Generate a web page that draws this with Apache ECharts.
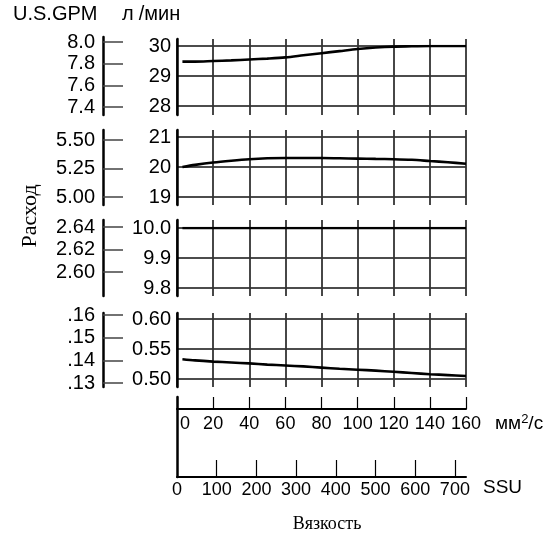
<!DOCTYPE html>
<html>
<head>
<meta charset="utf-8">
<script src="https://cdn.jsdelivr.net/npm/echarts@6/dist/echarts.min.js"></script>
<style>html,body{margin:0;padding:0;background:#fff}#c{width:556px;height:533px}</style>
</head>
<body>
<div id="c"></div>
<script>
// ---- data ----
const viscosityMm = [3, 10, 20, 30, 40, 50, 60, 70, 80, 90, 100, 110, 120, 130, 140, 150, 160];
const flow30 = [29.48, 29.48, 29.50, 29.52, 29.55, 29.58, 29.62, 29.69, 29.76, 29.83, 29.90, 29.95, 29.98, 29.99, 30.0, 30.0, 30.0];
const flow20 = [20.0, 20.07, 20.15, 20.21, 20.26, 20.29, 20.30, 20.30, 20.30, 20.29, 20.28, 20.27, 20.26, 20.24, 20.20, 20.16, 20.11];
const flow10 = [10.0, 10.0, 10.0, 10.0, 10.0, 10.0, 10.0, 10.0, 10.0, 10.0, 10.0, 10.0, 10.0, 10.0, 10.0, 10.0, 10.0];
const flow05 = [0.533, 0.531, 0.529, 0.5275, 0.526, 0.524, 0.5225, 0.521, 0.519, 0.517, 0.5155, 0.514, 0.512, 0.510, 0.508, 0.5065, 0.505];
const lpmRanges = [[28, 30, 1], [19, 21, 1], [9.8, 10.0, 0.1], [0.50, 0.60, 0.05]];
const lpmDecimals = [0, 0, 1, 2];
const gpmRanges = [[7.4, 8.0, 0.2], [5.00, 5.50, 0.25], [2.60, 2.64, 0.02], [0.13, 0.16, 0.01]];
const gpmDecimals = [1, 2, 2, 2];
const mmTicks = [0, 160, 20];
const ssuTicks = [0, 100, 200, 300, 400, 500, 600, 700];
const ssuAtMax = 728;
const flows = [flow30, flow20, flow10, flow05];

// ---- layout ----
const SANS = 'Liberation Sans, Arial, Helvetica, sans-serif';
const SERIF = 'Liberation Serif, Times New Roman, serif';
const L = 177, W = 289;
const panels = [
  {vT: 39, vB: 115, hT: 46, hB: 106, gT: 42, gB: 107, lT: 37, lB: 115},
  {vT: 130, vB: 205, hT: 137, hB: 197, gT: 140, gB: 197, lT: 130, lB: 205},
  {vT: 220, vB: 296, hT: 228, hB: 288, gT: 227, gB: 272, lT: 220, lB: 296},
  {vT: 313, vB: 387, hT: 319, hB: 379, gT: 315, gB: 383, lT: 313, lB: 387}
];

const option = {animation: false, grid: [], xAxis: [], yAxis: [], series: [], graphic: []};
function addGrid(g, xa, ya) {
  option.grid.push(Object.assign({containLabel: false}, g));
  const i = option.grid.length - 1;
  option.xAxis.push(Object.assign({gridIndex: i, type: 'value'}, xa));
  option.yAxis.push(Object.assign({gridIndex: i, type: 'value'}, ya));
  return i;
}

panels.forEach((p, k) => {
  // vertical grid lines
  addGrid({left: L, width: W, top: p.vT, height: p.vB - p.vT},
    {min: mmTicks[0], max: mmTicks[1], interval: mmTicks[2], axisLine: {show: false}, axisTick: {show: false}, axisLabel: {show: false},
     splitLine: {show: true, lineStyle: {color: '#333', width: 1.8}}},
    {min: 0, max: 1, axisLine: {show: true, lineStyle: {color: '#000', width: 2.5}}, axisTick: {show: false}, axisLabel: {show: false}, splitLine: {show: false}, z: 5});
  // horizontal grid + series
  const r = lpmRanges[k];
  const gi = addGrid({left: L, width: W, top: p.hT, height: p.hB - p.hT},
    {min: mmTicks[0], max: mmTicks[1], show: false},
    {min: r[0], max: r[1], interval: r[2], axisLine: {show: false}, axisTick: {show: false},
     axisLabel: {color: '#000', fontFamily: SANS, fontSize: 20, margin: 6, formatter: v => v.toFixed(lpmDecimals[k])},
     splitLine: {show: true, lineStyle: {color: '#111', width: 1.5}}});
  option.series.push({type: 'line', xAxisIndex: gi, yAxisIndex: gi, smooth: 0.3, symbol: 'none',
    lineStyle: {color: '#000', width: 2.6}, z: 10,
    data: viscosityMm.map((x, j) => [x, flows[k][j]])});
  // GPM ticks + labels
  const g = gpmRanges[k];
  addGrid({left: 103, width: 20, top: p.gT, height: p.gB - p.gT},
    {min: 0, max: 1, show: false},
    {min: g[0], max: g[1], interval: g[2], axisLine: {show: false},
     axisTick: {show: true, inside: true, length: 20, lineStyle: {color: '#444', width: 1.5}},
     axisLabel: {color: '#000', fontFamily: SANS, fontSize: 20, margin: 8,
       formatter: v => { let s = v.toFixed(gpmDecimals[k]); return k === 3 ? s.replace(/^0/, '') : s; }},
     splitLine: {show: false}});
  // GPM axis line
  addGrid({left: 103, width: 20, top: p.lT, height: p.lB - p.lT},
    {min: 0, max: 1, show: false},
    {min: 0, max: 1, axisLine: {show: true, lineStyle: {color: '#000', width: 2.5}}, axisTick: {show: false}, axisLabel: {show: false}, splitLine: {show: false}});
});

// bottom: left vertical line
addGrid({left: L, width: W, top: 397, height: 80},
  {min: 0, max: 1, show: false},
  {min: 0, max: 1, axisLine: {show: true, lineStyle: {color: '#000', width: 2.5}}, axisTick: {show: false}, axisLabel: {show: false}, splitLine: {show: false}});
// mm2/s axis
addGrid({left: L, width: W, top: 397, height: 12},
  {min: mmTicks[0], max: mmTicks[1], interval: mmTicks[2], position: 'bottom',
   axisLine: {show: true, lineStyle: {color: '#000', width: 2}},
   axisTick: {show: true, inside: true, length: 12, lineStyle: {color: '#000', width: 1.2}},
   axisLabel: {color: '#000', fontFamily: SANS, fontSize: 18, margin: 6,
     formatter: v => v === 0 ? '{z|0}' : String(v), rich: {z: {fontFamily: SANS, fontSize: 18, color: '#000', padding: [0, 0, 0, 16]}}},
   splitLine: {show: false}},
  {min: 0, max: 1, show: false});
// SSU axis
addGrid({left: L, width: W, top: 460, height: 17},
  {min: 0, max: ssuAtMax, position: 'bottom',
   axisLine: {show: true, lineStyle: {color: '#000', width: 2}},
   axisTick: {show: true, inside: true, length: 17, customValues: ssuTicks.slice(1), lineStyle: {color: '#000', width: 1.2}},
   axisLabel: {color: '#000', fontFamily: SANS, fontSize: 18, margin: 4, customValues: ssuTicks},
   splitLine: {show: false}},
  {min: 0, max: 1, show: false});

option.graphic = [
  {type: 'text', left: 13, top: 4, style: {text: 'U.S.GPM', font: '20px ' + SANS, fill: '#000'}},
  {type: 'text', left: 122, top: 4, style: {text: '{a|л}{b|/мин}',
     rich: {a: {fontFamily: SANS, fontSize: 20, fill: '#000'}, b: {fontFamily: SANS, fontSize: 20, fill: '#000', padding: [0, 0, 0, 5]}}}},
  {type: 'text', x: 30, y: 216, rotation: Math.PI / 2,
   style: {text: 'Расход', font: '22px ' + SERIF, fill: '#000', align: 'center', verticalAlign: 'middle'}},
  {type: 'text', x: 327, y: 524,
   style: {text: 'Вязкость', font: '18px ' + SERIF, fill: '#000', align: 'center', verticalAlign: 'middle'}},
  {type: 'text', x: 495, y: 423,
   style: {text: '{a|мм}{s|2}{a|/с}', align: 'left', verticalAlign: 'middle',
     rich: {a: {fontFamily: SANS, fontSize: 19, fill: '#000', verticalAlign: 'bottom'},
            s: {fontFamily: SANS, fontSize: 13, fill: '#000', verticalAlign: 'bottom', padding: [0, 0, 7, 0]}}}},
  {type: 'text', x: 483, y: 488,
   style: {text: 'SSU', font: '19px ' + SANS, fill: '#000', align: 'left', verticalAlign: 'middle'}}
];

const chart = echarts.init(document.getElementById('c'), null, {renderer: 'canvas'});
chart.setOption(option);
</script>
</body>
</html>
